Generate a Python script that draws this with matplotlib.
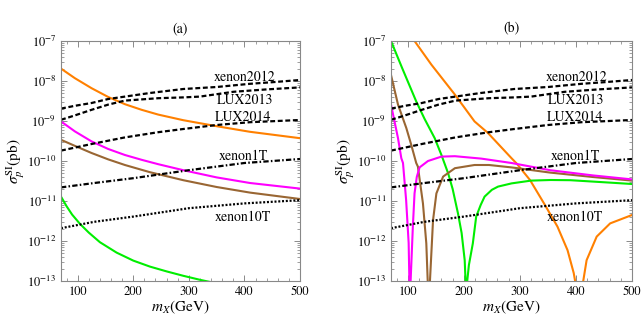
import matplotlib
matplotlib.use("Agg")
import matplotlib.pyplot as plt
import numpy as np
from matplotlib.ticker import LogLocator, MultipleLocator, NullFormatter

plt.rcParams['font.family'] = ['STIXGeneral', 'DejaVu Serif']
plt.rcParams['mathtext.fontset'] = 'stix'

# experimental limits (same in both panels), values are log10(sigma / pb)
m_x2012 = [70, 95, 125, 155, 185, 230, 290, 350, 410, 450, 500]
lg_x2012 = [-8.69, -8.62, -8.55, -8.45, -8.39, -8.30, -8.20, -8.15, -8.07, -8.03, -7.975]
m_lux13 = [70, 95, 125, 155, 185, 245, 290, 320, 380, 440, 500]
lg_lux13 = [-8.97, -8.86, -8.72, -8.59, -8.49, -8.43, -8.41, -8.39, -8.27, -8.21, -8.16]
m_lux14 = [70, 125, 185, 245, 290, 350, 410, 500]
lg_lux14 = [-9.74, -9.575, -9.41, -9.28, -9.20, -9.10, -9.03, -8.975]
m_x1t = [70, 130, 200, 300, 400, 500]
lg_x1t = [-10.66, -10.55, -10.43, -10.23, -10.05, -9.95]
m_x10t = [70, 130, 200, 300, 400, 500]
lg_x10t = [-11.68, -11.52, -11.39, -11.18, -11.06, -10.98]

limit_names = ['xenon2012', 'LUX2013', 'LUX2014', 'xenon1T', 'xenon10T']
label_m = [401, 401, 398, 398, 398]
label_lg = [-7.92, -8.49, -8.90, -9.89, -11.40]

# panel (a)
a_orange_m = [70, 95, 125, 155, 185, 215, 245, 290, 350, 410, 500]
a_orange = [-7.69, -7.93, -8.18, -8.40, -8.58, -8.72, -8.84, -8.98, -9.13, -9.27, -9.43]
a_magenta_m = [70, 95, 125, 155, 185, 215, 245, 290, 350, 410, 500]
a_magenta = [-9.01, -9.26, -9.51, -9.70, -9.85, -9.97, -10.08, -10.23, -10.41, -10.55, -10.69]
a_brown_m = [70, 98, 125, 155, 185, 230, 290, 350, 410, 500]
a_brown = [-9.47, -9.64, -9.80, -9.96, -10.10, -10.28, -10.48, -10.65, -10.79, -10.95]
a_green_m = [70, 80, 90, 104, 120, 140, 170, 200, 230, 260, 290, 320, 340]
a_green = [-10.89, -11.13, -11.34, -11.57, -11.79, -12.03, -12.29, -12.49, -12.64, -12.76,
           -12.87, -12.97, -13.03]

# panel (b)
b_green_m = [70, 90, 115, 130, 148, 160, 172, 180, 189.5, 196, 201.5, 203, 204.5, 206, 209,
             216, 222, 230, 237, 250, 261, 285, 320, 355, 390, 425, 460, 500]
b_green = [-7.0, -7.68, -8.51, -8.95, -9.43, -9.85, -10.31, -10.70, -11.31, -11.80, -12.48,
           -13.0, -14.5, -13.0, -12.60, -12.06, -11.39, -11.10, -10.89, -10.72, -10.64,
           -10.56, -10.49, -10.475, -10.48, -10.51, -10.54, -10.575]
b_magenta_m = [70, 82.5, 88.4, 91.4, 97, 101.5, 102.8, 103.8, 105, 109, 112, 116, 121, 136,
               160, 184, 231, 285, 354, 430, 500]
b_magenta = [-8.59, -9.43, -9.93, -10.05, -10.98, -12.05, -13.0, -14.5, -13.0, -11.64,
             -10.81, -10.40, -10.16, -10.00, -9.89, -9.88, -9.94, -10.05, -10.23, -10.36,
             -10.46]
b_brown_m = [70, 82.5, 97.3, 106, 115, 118, 127, 133, 135.5, 137.5, 139.5, 145, 151, 163,
             184, 219, 245, 285, 354, 430, 500]
b_brown = [-7.85, -8.59, -9.175, -9.59, -10.05, -10.14, -11.06, -12.06, -13.0, -14.5,
           -13.0, -11.48, -10.81, -10.39, -10.18, -10.10, -10.10, -10.16, -10.29, -10.40,
           -10.49]
b_orange_m = [112, 142, 184, 219, 243, 285, 294, 318, 343, 367, 385, 396, 398.5, 406, 413,
              419, 437, 461, 500]
b_orange = [-7.0, -7.59, -8.34, -9.01, -9.30, -9.93, -10.06, -10.475, -11.06, -11.64,
            -12.23, -12.80, -13.0, -14.5, -13.0, -12.48, -11.89, -11.56, -11.35]

c_orange = '#ff8000'
c_magenta = '#ff00ff'
c_brown = '#996633'
c_green = '#00ee00'

fig = plt.figure(figsize=(6.42, 3.36), dpi=100)
ax_a = fig.add_axes([61 / 642, 1 - 281 / 336, 239 / 642, 240 / 336])
ax_b = fig.add_axes([391 / 642, 1 - 281 / 336, 241 / 642, 240 / 336])


def p(lg):
    return 10.0 ** np.array(lg)


def draw_limits(ax):
    lw = 1.6
    ax.plot(m_x2012, p(lg_x2012), color='k', lw=lw, ls=(0, (2.2, 1.2)))
    ax.plot(m_lux13, p(lg_lux13), color='k', lw=lw, ls=(0, (2.2, 1.2)))
    ax.plot(m_lux14, p(lg_lux14), color='k', lw=lw, ls=(0, (2.2, 1.2)))
    ax.plot(m_x1t, p(lg_x1t), color='k', lw=lw, ls=(0, (2.4, 1.0, 0.7, 1.0)))
    ax.plot(m_x10t, p(lg_x10t), color='k', lw=lw, ls=(0, (0.9, 0.8)))
    for name, mm, ll in zip(limit_names, label_m, label_lg):
        ax.text(mm, 10.0 ** ll, name, ha='center', va='center', fontsize=10)


def style(ax, title):
    ax.set_yscale('log')
    ax.set_xlim(70, 500)
    ax.set_ylim(1e-13, 1e-7)
    ax.set_xticks([100, 200, 300, 400, 500])
    ax.xaxis.set_minor_locator(MultipleLocator(20))
    ax.yaxis.set_major_locator(LogLocator(base=10, numticks=20))
    ax.yaxis.set_minor_locator(LogLocator(base=10, subs=np.arange(2, 10), numticks=20))
    ax.yaxis.set_minor_formatter(NullFormatter())
    ax.tick_params(which='both', direction='in', top=True, right=True, color='#777777',
                   labelsize=9)
    ax.tick_params(which='major', length=4, width=0.6)
    ax.tick_params(which='minor', length=2, width=0.5)
    for s in ax.spines.values():
        s.set_color('#888888')
        s.set_linewidth(0.8)
    ax.set_xlabel('$m_X$(GeV)', fontsize=11, labelpad=1)
    ax.set_ylabel(r'$\sigma_p^{\mathrm{SI}}$(pb)', fontsize=11, labelpad=0)
    ax.set_title(title, fontsize=10, pad=6)


lw_c = 1.5
ax_a.plot(a_orange_m, p(a_orange), color=c_orange, lw=lw_c)
ax_a.plot(a_magenta_m, p(a_magenta), color=c_magenta, lw=lw_c)
ax_a.plot(a_brown_m, p(a_brown), color=c_brown, lw=lw_c)
ax_a.plot(a_green_m, p(a_green), color=c_green, lw=lw_c)
draw_limits(ax_a)
style(ax_a, '(a)')

ax_b.plot(b_orange_m, p(b_orange), color=c_orange, lw=lw_c)
ax_b.plot(b_green_m, p(b_green), color=c_green, lw=lw_c)
ax_b.plot(b_brown_m, p(b_brown), color=c_brown, lw=lw_c)
ax_b.plot(b_magenta_m, p(b_magenta), color=c_magenta, lw=lw_c)
draw_limits(ax_b)
style(ax_b, '(b)')

fig.savefig('out.png', dpi=100)
